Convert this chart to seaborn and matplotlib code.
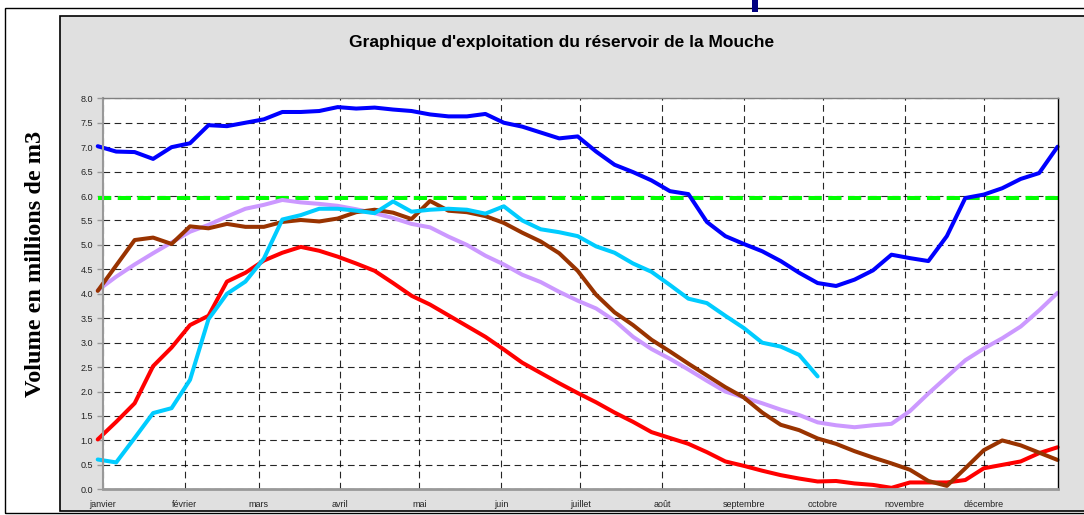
import numpy as np
import pandas as pd
import matplotlib
matplotlib.use("Agg")
import matplotlib.pyplot as plt
from matplotlib.patches import Rectangle
import seaborn as sns

# Month labels and the day of year where each month starts
mois = ["janvier", "février", "mars", "avril", "mai", "juin", "juillet",
        "août", "septembre", "octobre", "novembre", "décembre"]
debut_mois = [0, 31, 59, 90, 120, 151, 181, 212, 243, 273, 304, 334]

# Weekly readings (53 weeks), volumes in millions of m3
semaine = list(range(53))

volume_bleu = [7.02, 6.91, 6.90, 6.76, 7.00, 7.08, 7.45, 7.43, 7.50, 7.57,
               7.72, 7.72, 7.74, 7.82, 7.79, 7.81, 7.77, 7.74, 7.67, 7.63,
               7.63, 7.68, 7.50, 7.42, 7.30, 7.18, 7.22, 6.91, 6.64, 6.49,
               6.32, 6.10, 6.04, 5.47, 5.18, 5.02, 4.87, 4.67, 4.43, 4.22,
               4.16, 4.29, 4.48, 4.80, 4.73, 4.67, 5.18, 5.96, 6.03, 6.16,
               6.35, 6.47, 7.01]

volume_cyan = [0.61, 0.55, 1.05, 1.56, 1.66, 2.24, 3.48, 4.00, 4.25, 4.72,
               5.52, 5.61, 5.74, 5.74, 5.70, 5.65, 5.89, 5.68, 5.72, 5.74,
               5.72, 5.64, 5.79, 5.50, 5.32, 5.26, 5.18, 4.97, 4.84, 4.62,
               4.45, 4.18, 3.90, 3.81, 3.55, 3.30, 3.00, 2.92, 2.75, 2.31]

volume_mauve = [4.07, 4.35, 4.60, 4.83, 5.05, 5.27, 5.41, 5.58, 5.74, 5.82,
                5.92, 5.87, 5.84, 5.80, 5.73, 5.65, 5.55, 5.43, 5.36, 5.17,
                5.00, 4.78, 4.60, 4.39, 4.24, 4.04, 3.86, 3.70, 3.45, 3.12,
                2.87, 2.67, 2.45, 2.22, 2.00, 1.88, 1.76, 1.63, 1.52, 1.37,
                1.31, 1.27, 1.31, 1.34, 1.60, 1.96, 2.30, 2.64, 2.88, 3.09,
                3.33, 3.66, 4.02]

volume_brun = [4.06, 4.58, 5.10, 5.15, 5.02, 5.38, 5.34, 5.43, 5.37, 5.37,
               5.47, 5.51, 5.48, 5.54, 5.67, 5.72, 5.66, 5.53, 5.90, 5.70,
               5.67, 5.59, 5.45, 5.25, 5.07, 4.83, 4.47, 3.98, 3.62, 3.36,
               3.06, 2.82, 2.57, 2.33, 2.09, 1.88, 1.57, 1.32, 1.21, 1.04,
               0.93, 0.78, 0.65, 0.53, 0.40, 0.17, 0.07, 0.43, 0.80, 1.00,
               0.90, 0.75, 0.60]

volume_rouge = [1.02, 1.38, 1.76, 2.52, 2.90, 3.36, 3.55, 4.25, 4.43, 4.68,
                4.84, 4.96, 4.88, 4.76, 4.62, 4.47, 4.22, 3.96, 3.78, 3.56,
                3.34, 3.12, 2.86, 2.59, 2.38, 2.17, 1.97, 1.78, 1.57, 1.38,
                1.17, 1.05, 0.93, 0.76, 0.57, 0.48, 0.38, 0.29, 0.22, 0.16,
                0.17, 0.12, 0.09, 0.03, 0.14, 0.14, 0.14, 0.19, 0.43, 0.50,
                0.57, 0.74, 0.86]

# Operating threshold
seuil = 5.95

titre = "Graphique d'exploitation du réservoir de la Mouche"
label_y = "Volume en millions de m3"

# Day of year for each weekly reading
jours = np.array(semaine) * 7 - 2

sns.set_theme(style="white")
plt.rcParams["font.family"] = ["Liberation Sans", "DejaVu Sans"]

W, H = 1084, 515
fig = plt.figure(figsize=(W / 100, H / 100), dpi=100)
fig.patch.set_facecolor("white")


def rect_px(x0, y0, x1, y1, **kw):
    """Rectangle given in pixel coordinates (origin top-left)."""
    return Rectangle((x0 / W, 1 - y1 / H), (x1 - x0) / W, (y1 - y0) / H,
                     transform=fig.transFigure, **kw)


# Outer frame and grey chart panel
fig.add_artist(rect_px(5, 8, 1095, 513, facecolor="none", edgecolor="black", lw=1.0, zorder=0))
fig.add_artist(rect_px(60, 16, 1095, 511, facecolor="#E0E0E0", edgecolor="black", lw=1.2, zorder=0))
fig.add_artist(rect_px(752, 0, 758, 12, facecolor="#000080", edgecolor="none", zorder=5))

ax = fig.add_axes([103 / W, 1 - 489.3 / H, (1057.6 - 103) / W, (489.3 - 98.3) / H])
ax.set_facecolor("white")
ax.set_axisbelow(True)

df = pd.DataFrame({"jour": jours, "seuil": np.full(len(jours), seuil),
                   "bleu": volume_bleu, "mauve": volume_mauve,
                   "brun": volume_brun, "rouge": volume_rouge})
df_cyan = pd.DataFrame({"jour": jours[:len(volume_cyan)], "cyan": volume_cyan})

lw = 2.9
sns.lineplot(data=df, x="jour", y="seuil", color="#00FF00", lw=lw, ax=ax,
             linestyle=(0, (3.3, 1.6)), clip_on=False)
sns.lineplot(data=df, x="jour", y="rouge", color="#FF0000", lw=lw, ax=ax, clip_on=False)
sns.lineplot(data=df, x="jour", y="mauve", color="#CC99FF", lw=lw, ax=ax, clip_on=False)
sns.lineplot(data=df, x="jour", y="brun", color="#993300", lw=lw, ax=ax, clip_on=False)
sns.lineplot(data=df_cyan, x="jour", y="cyan", color="#00CCFF", lw=lw, ax=ax, clip_on=False)
sns.lineplot(data=df, x="jour", y="bleu", color="#0000FF", lw=lw, ax=ax, clip_on=False)

ax.set_xlim(0, 362)
ax.set_ylim(0, 8)
yt = np.arange(0, 8.01, 0.5)
ax.set_yticks(yt)
ax.set_yticklabels([f"{v:.1f}" for v in yt])
ax.set_xticks(debut_mois)
ax.set_xticklabels(mois)
ax.set_xlabel("")
ax.set_ylabel("")

ax.grid(True, color="black", linestyle=(0, (6, 4)), lw=0.8, alpha=0.85)

for side, col, w in [("left", "#999999", 1.5), ("bottom", "#999999", 2.0),
                     ("right", "black", 1.0), ("top", "#808080", 1.0)]:
    ax.spines[side].set_color(col)
    ax.spines[side].set_linewidth(w)
    ax.spines[side].set_visible(True)

ax.tick_params(axis="y", length=4, width=1, color="#999999", direction="out",
               labelsize=6.5, labelcolor="#222222", pad=3, left=True)
ax.tick_params(axis="x", length=0, labelsize=6.5, labelcolor="#222222", pad=8)

fig.text(562 / W, 1 - 42 / H, titre, ha="center", va="center",
         fontsize=12.5, fontweight="bold", color="black")
fig.text(36 / W, 1 - 264 / H, label_y, rotation=90, ha="center", va="center",
         fontsize=17.5, fontweight="bold", family=["Liberation Serif", "DejaVu Serif"],
         color="black")

fig.savefig("out.png", dpi=100)
